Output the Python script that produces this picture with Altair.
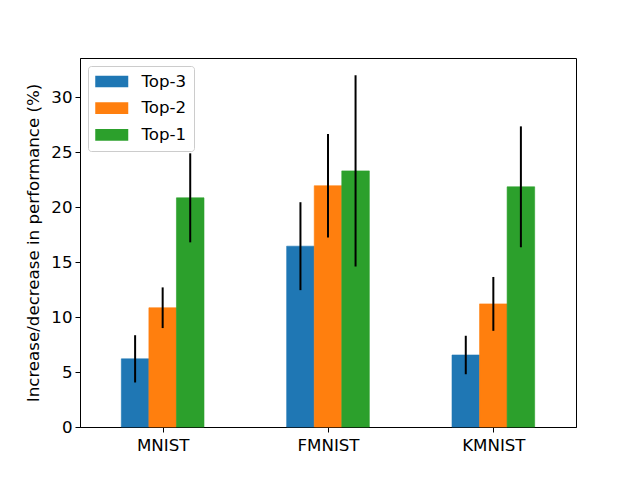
import json
import altair as alt
import pandas as pd

datasets = ["MNIST", "FMNIST", "KMNIST"]
series = ["Top-3", "Top-2", "Top-1"]
colors = ["#1f77b4", "#ff7f0e", "#2ca02c"]

top3 = [6.2, 16.45, 6.55]
top3_err = [2.15, 4.0, 1.75]
top2 = [10.85, 21.95, 11.2]
top2_err = [1.85, 4.7, 2.45]
top1 = [20.85, 23.3, 21.85]
top1_err = [4.05, 8.7, 5.5]

values = {"Top-3": top3, "Top-2": top2, "Top-1": top1}
errors = {"Top-3": top3_err, "Top-2": top2_err, "Top-1": top1_err}

bw = 0.5 / 3
rows = []
for i, d in enumerate(datasets):
    for j, s in enumerate(series):
        xc = i + (j - 1) * bw
        v = values[s][i]
        e = errors[s][i]
        rows.append({"dataset": d, "series": s, "xc": xc, "x0": xc - bw / 2,
                     "x1": xc + bw / 2, "value": v, "base": 0.0,
                     "lo": v - e, "hi": v + e})
df = pd.DataFrame(rows)

FONT = "DejaVu Sans"
FS = 16.67

xscale = alt.Scale(domain=[-0.5, 2.5], nice=False, zero=False)
yscale = alt.Scale(domain=[0, 33.57], nice=False, padding=0)
cscale = alt.Scale(domain=series, range=colors)

label_expr = json.dumps(datasets) + "[datum.value]"

bars = alt.Chart(df).mark_rect(opacity=1, strokeWidth=0.6).encode(
    x=alt.X("x0:Q", scale=xscale, title=None,
            axis=alt.Axis(values=[0, 1, 2], labelExpr=label_expr, grid=False)),
    x2="x1:Q",
    y=alt.Y("value:Q", scale=yscale, title="Increase/decrease in performance (%)",
            axis=alt.Axis(values=[0, 5, 10, 15, 20, 25, 30], grid=False)),
    y2="base:Q",
    color=alt.Color("series:N", scale=cscale, sort=series,
                    legend=alt.Legend(title=None, orient="top-left")),
    stroke=alt.Stroke("series:N", scale=cscale, sort=series, legend=None),
)

errs = alt.Chart(df).mark_rule(color="black", strokeWidth=2).encode(
    x=alt.X("xc:Q", scale=xscale),
    y=alt.Y("lo:Q", scale=yscale),
    y2="hi:Q",
)

chart = alt.layer(bars, errs).properties(
    width=496, height=369, autosize="none",
    padding={"left": 72, "top": 50, "right": 56, "bottom": 45},
).configure_view(
    stroke="black", strokeWidth=1
).configure_axis(
    labelFont=FONT, labelFontSize=FS, labelColor="black",
    titleFont=FONT, titleFontSize=FS, titleColor="black", titleFontWeight="normal",
    tickColor="black", tickSize=5, tickWidth=1, domainColor="black", domainWidth=1,
    labelPadding=3,
).configure_axisY(
    titlePadding=8,
).configure_axisX(
    labelPadding=5,
).configure_legend(
    offset=8, padding=7, fillColor="rgba(255,255,255,0.8)", strokeColor="#cccccc",
    cornerRadius=3, labelFont=FONT, labelFontSize=FS, labelColor="black",
    symbolType="M-2,-0.709H2V0.709H-2Z", symbolSize=272.25, symbolStrokeWidth=0,
    symbolOpacity=1, symbolOffset=8.25, labelOffset=21.25, rowPadding=8.7,
)

chart.save("out.html", embed_options={"renderer": "svg", "actions": False})
